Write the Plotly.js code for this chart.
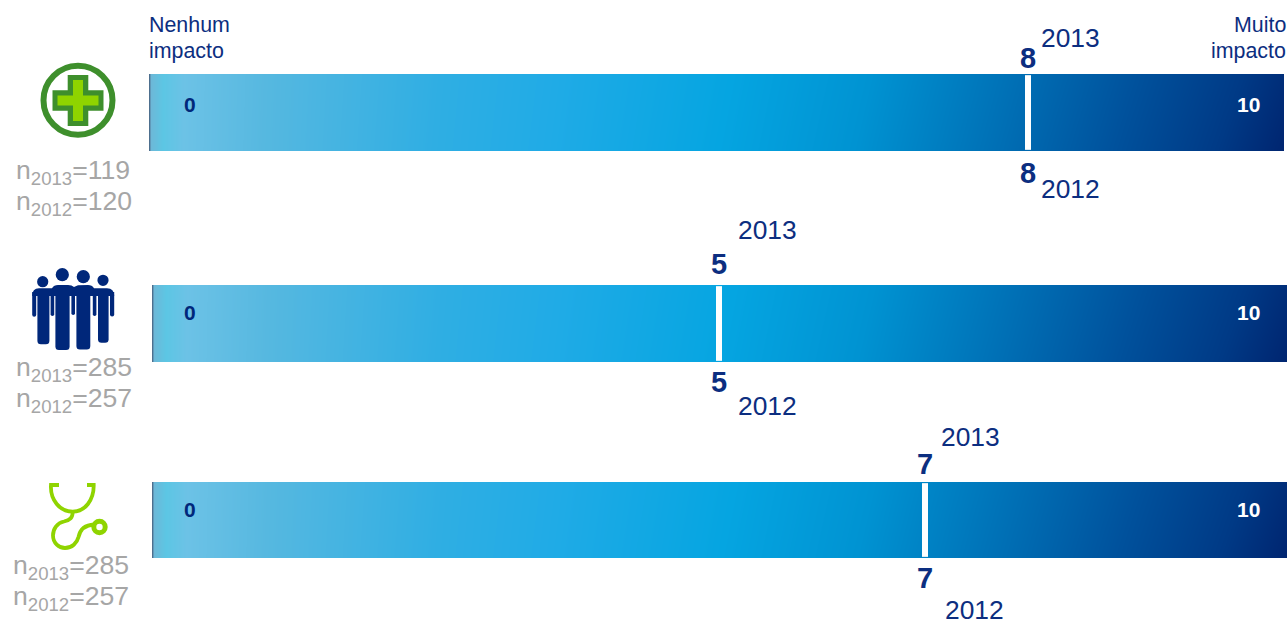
<!DOCTYPE html>
<html>
<head>
<meta charset="utf-8">
<script src="https://cdn.plot.ly/plotly-3.0.1.min.js"></script>
<style>html,body{margin:0;padding:0;background:#fff;overflow:hidden}</style>
</head>
<body>
<div id="chart" style="width:1287px;height:620px"></div>
<script>
// Impact scale, one score per group and year
const values2013 = [8, 5, 7];
const values2012 = [8, 5, 7];
const n2013 = [119, 285, 285];
const n2012 = [120, 257, 257];
const scaleMin = 0;
const scaleMax = 10;
const year2013 = '2013';
const year2012 = '2012';
const lowLabel = ['Nenhum', 'impacto'];
const highLabel = ['Muito', 'impacto'];

// Colour ramp of the scale bars, position along the bar and colour
const rampPositions = [0, 0.012, 0.03, 0.1, 0.25, 0.35, 0.5, 0.62, 0.75, 0.85, 0.94, 1];
const rampColors = ['#6fb6d6', '#5cc6e4', '#6cc2e6', '#56b8e0', '#2faee3', '#20abe6', '#05a5e1', '#0093d2', '#006eb4', '#00519c', '#003a86', '#002570'];

const NAVY = '#0c2e80';
const DARK = '#00287a';
const GREY = '#a6a6a6';
const FONT = '"Liberation Sans", Arial, sans-serif';
const W = 1287, H = 620;

// Pixel geometry of each bar and where the scale ends sit on it
const panels = [
  {left: 149, right: 1284, top: 74,  bottom: 151, zeroPx: 190, unitPx: 104.75, endY: 104.5, topNum: 57.5, botNum: 172.5, topYear: [1040, 38],  botYear: [1040, 189], n: [15, 172, 203]},
  {left: 152, right: 1287, top: 285, bottom: 362, zeroPx: 190, unitPx: 105.8,  endY: 312.5, topNum: 263.5, botNum: 381.5, topYear: [737, 230],  botYear: [737, 406],  n: [15, 369, 400]},
  {left: 152, right: 1287, top: 482, bottom: 558, zeroPx: 190, unitPx: 105,    endY: 509.5, topNum: 463.5, botNum: 577.5, topYear: [940, 437],  botYear: [944, 610],  n: [12, 567, 598]}
];

const traces = [];
const layout = {
  width: W, height: H, autosize: false,
  margin: {l: 0, r: 0, t: 0, b: 0},
  paper_bgcolor: '#fff', plot_bgcolor: 'rgba(0,0,0,0)',
  showlegend: false,
  shapes: [], annotations: [],
  // Whole-page axes measured in pixels, used for the icons and side labels
  xaxis4: {domain: [0, 1], range: [0, W], visible: false, fixedrange: true, anchor: 'y4'},
  yaxis4: {domain: [0, 1], range: [H, 0], visible: false, fixedrange: true, anchor: 'x4'}
};

traces.push({type: 'scatter', x: [], y: [], xaxis: 'x4', yaxis: 'y4', hoverinfo: 'skip'});

function label(text, x, y, size, color, opts) {
  layout.annotations.push(Object.assign({
    text, x, y, xref: 'x4', yref: 'y4', showarrow: false,
    xanchor: 'center', yanchor: 'middle', borderpad: 0,
    font: {family: FONT, size, color}
  }, opts || {}));
}

const colorscale = rampPositions.map((p, i) => [p, rampColors[i]]);

panels.forEach((p, i) => {
  const suffix = i === 0 ? '' : String(i + 1);
  const xName = 'x' + suffix, yName = 'y' + suffix;
  const r0 = (p.left - p.zeroPx) / p.unitPx;
  const r1 = (p.right - p.zeroPx) / p.unitPx;

  layout['xaxis' + suffix] = {domain: [p.left / W, p.right / W], range: [r0, r1], visible: false, fixedrange: true, anchor: yName};
  layout['yaxis' + suffix] = {domain: [1 - p.bottom / H, 1 - p.top / H], range: [0, 1], visible: false, fixedrange: true, anchor: xName};

  // Gradient band, slightly slanted towards the dark end
  traces.push({
    type: 'heatmap', x: [r0, r1], y: [0, 1], z: [[0, 1], [0, 0.975]],
    zmin: 0, zmax: 1, zsmooth: 'best', colorscale, showscale: false,
    hoverinfo: 'skip', xaxis: xName, yaxis: yName
  });

  // White score marker: upper part for 2013, lower part for 2012, overlapping mid-bar
  [[values2013[i], [0.4, 0.985]], [values2012[i], [0.015, 0.6]]].forEach(([v, ys]) => {
    traces.push({
      type: 'scatter', mode: 'lines', x: [v, v], y: ys,
      line: {color: '#ffffff', width: 6}, hoverinfo: 'skip', xaxis: xName, yaxis: yName
    });
  });

  // Thin dark edge at the start of the bar
  layout.shapes.push({type: 'line', xref: 'x4', yref: 'y4', x0: p.left + 0.7, x1: p.left + 0.7, y0: p.top, y1: p.bottom, line: {color: '#4d6f8e', width: 1.4}});

  layout.annotations.push(
    {text: '<b>' + scaleMin + '</b>', x: scaleMin, xref: xName, y: p.endY, yref: 'y4', showarrow: false, font: {family: FONT, size: 21, color: DARK}},
    {text: '<b>' + scaleMax + '</b>', x: scaleMax, xref: xName, xshift: 1248.5 - (p.zeroPx + p.unitPx * scaleMax), y: p.endY, yref: 'y4', showarrow: false, font: {family: FONT, size: 21, color: '#ffffff'}},
    {text: '<b>' + values2013[i] + '</b>', x: values2013[i], xref: xName, y: p.topNum, yref: 'y4', showarrow: false, font: {family: FONT, size: 29, color: NAVY}},
    {text: '<b>' + values2012[i] + '</b>', x: values2012[i], xref: xName, y: p.botNum, yref: 'y4', showarrow: false, font: {family: FONT, size: 29, color: NAVY}}
  );

  label(year2013, p.topYear[0], p.topYear[1], 26.4, NAVY, {xanchor: 'left'});
  label(year2012, p.botYear[0], p.botYear[1], 26.4, NAVY, {xanchor: 'left'});

  label('n<sub>2013</sub>=' + n2013[i], p.n[0], p.n[1], 26.6, GREY, {xanchor: 'left'});
  label('n<sub>2012</sub>=' + n2012[i], p.n[0], p.n[2], 26.6, GREY, {xanchor: 'left'});
});

lowLabel.forEach((t, i) => label(t, 147.8, 25 + i * 26, 21.4, NAVY, {xanchor: 'left'}));
highLabel.forEach((t, i) => label(t, 1286.5, 25 + i * 26, 21.4, NAVY, {xanchor: 'right'}));

// --- Icons, drawn on the pixel axes ---
function addPath(path, fill, line, width) {
  layout.shapes.push({
    type: 'path', xref: 'x4', yref: 'y4', path,
    fillcolor: fill || 'rgba(0,0,0,0)',
    line: {color: line || 'rgba(0,0,0,0)', width: width || 0}
  });
}
function addDisc(cx, cy, r, fill, line, width) {
  layout.shapes.push({
    type: 'circle', xref: 'x4', yref: 'y4',
    x0: cx - r, x1: cx + r, y0: cy - r, y1: cy + r,
    fillcolor: fill || 'rgba(0,0,0,0)',
    line: {color: line || 'rgba(0,0,0,0)', width: width || 0}
  });
}
function plus(cx, cy, halfLen, halfArm) {
  const a = halfArm, b = halfLen;
  return 'M' + (cx - a) + ' ' + (cy - b) + ' L' + (cx + a) + ' ' + (cy - b) + ' L' + (cx + a) + ' ' + (cy - a) +
    ' L' + (cx + b) + ' ' + (cy - a) + ' L' + (cx + b) + ' ' + (cy + a) + ' L' + (cx + a) + ' ' + (cy + a) +
    ' L' + (cx + a) + ' ' + (cy + b) + ' L' + (cx - a) + ' ' + (cy + b) + ' L' + (cx - a) + ' ' + (cy + a) +
    ' L' + (cx - b) + ' ' + (cy + a) + ' L' + (cx - b) + ' ' + (cy - a) + ' L' + (cx - a) + ' ' + (cy - a) + ' Z';
}

// Green cross in a ring
const RING = '#3e8f2c', LIME = '#8fd400';
addDisc(78, 100.3, 34.5, null, RING, 6);
addPath(plus(78, 100.5, 25.5, 10.3), RING);
addPath(plus(78, 100.5, 20.5, 5), LIME);

// Group of four people
const PERSON = '#00277a';
function column(x0, x1, y0, y1) {
  const r = Math.min((x1 - x0) / 2, 3.5);
  return 'M' + x0 + ' ' + y0 + ' L' + x0 + ' ' + (y1 - r) + ' Q' + x0 + ' ' + y1 + ' ' + (x0 + r) + ' ' + y1 +
    ' L' + (x1 - r) + ' ' + y1 + ' Q' + x1 + ' ' + y1 + ' ' + x1 + ' ' + (y1 - r) + ' L' + x1 + ' ' + y0 + ' Z';
}
[[37.4, 49.4, 344.3], [55.4, 69.6, 350], [76.4, 90.3, 349.5], [98, 108.6, 342.7]].forEach(c => addPath(column(c[0], c[1], 292, c[2]), PERSON));
[[32.2, 36.2, 316.7], [50.6, 54.2, 316], [71.4, 75, 315], [92.8, 96.4, 316], [110, 114.2, 316.5]].forEach(c => addPath(column(c[0], c[1], 292, c[2]), PERSON));
addPath('M32.2 296 Q32.2 288.5 39 288.3 L52 288.3 Q54 285 58 285 L68 285 Q72 285 74 287 L78 285.2 L88 285 Q92 285 94 288.3 L107 288.3 Q114.2 288.5 114.2 296 Z', PERSON);
[[42.7, 281.7, 5.6], [62.3, 274.7, 6.6], [83.3, 276.7, 6.6], [103, 280.3, 5.6]].forEach(h => addDisc(h[0], h[1], h[2], PERSON));

// Stethoscope
const SCOPE = '#8fd400';
addPath('M59 485 L51 485 C50 500 60 511.7 72.7 511.7 C85 511.7 94 500 93.7 485 L87 485', null, SCOPE, 3.8);
addPath('M72.7 511.7 C72.7 518 70 520 64 521.5 C57 523 53 529 53 535.5 C53 543 59 548 65 548 C72 548 77 543 78.5 537 C80 530 84 525 94 524.5', null, SCOPE, 3.8);
addDisc(99.5, 527, 5.7, null, SCOPE, 5);

Plotly.newPlot('chart', traces, layout, {displayModeBar: false, staticPlot: true});
</script>
</body>
</html>
